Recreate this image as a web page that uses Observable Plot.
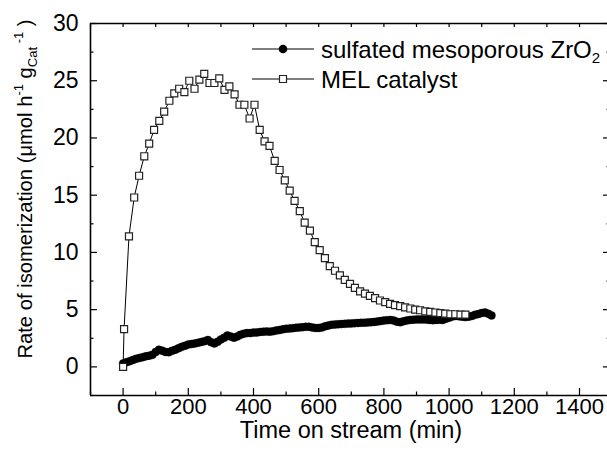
<!DOCTYPE html>
<html><head><meta charset="utf-8">
<script src="https://cdn.jsdelivr.net/npm/d3@7"></script>
<script src="https://cdn.jsdelivr.net/npm/@observablehq/plot@0.6"></script>
<style>
body{margin:0;background:#fff;overflow:hidden;}
#chart{position:relative;width:607px;height:451px;overflow:hidden;}
</style></head><body><div id="chart"></div>
<script>
// sulfated mesoporous ZrO2 (filled circles)
const zrTime = [0,10,20,30,40,50,60,70,80,90,100,110,120,130,140,150,160,170,180,190,200,210,220,230,240,250,260,270,280,290,300,310,320,330,340,350,360,370,380,390,400,410,420,430,440,450,460,470,480,490,500,510,520,530,540,550,560,570,580,590,600,610,620,630,640,650,660,670,680,690,700,710,720,730,740,750,760,770,780,790,800,810,820,830,840,850,860,870,880,890,900,910,920,930,940,950,960,970,980,990,1000,1010,1020,1030,1040,1050,1060,1070,1080,1090,1100,1110,1120,1130];
const zrRate = [0.30,0.40,0.50,0.60,0.70,0.78,0.85,0.92,0.98,1.05,1.30,1.50,1.42,1.30,1.28,1.40,1.50,1.62,1.75,1.85,1.95,2.00,2.05,2.10,2.18,2.25,2.35,2.15,2.05,2.20,2.40,2.55,2.75,2.65,2.55,2.65,2.80,2.90,2.95,2.95,3.00,3.00,3.05,3.08,3.10,3.08,3.12,3.18,3.22,3.28,3.33,3.35,3.38,3.42,3.45,3.47,3.50,3.50,3.45,3.40,3.40,3.45,3.55,3.62,3.68,3.70,3.72,3.74,3.76,3.78,3.80,3.82,3.83,3.85,3.86,3.88,3.90,3.93,3.96,4.00,4.05,4.08,4.10,4.05,3.95,3.90,3.98,4.05,4.10,4.12,4.15,4.15,4.15,4.13,4.10,4.08,4.10,4.12,4.10,4.20,4.30,4.40,4.45,4.42,4.38,4.35,4.38,4.45,4.55,4.62,4.70,4.75,4.65,4.50];
// MEL catalyst (open squares)
const melTime = [0,3,18,34,49,65,80,95,111,126,142,157,172,188,203,219,234,249,265,280,295,311,326,342,357,372,388,403,419,434,449,465,480,496,511,526,542,557,573,588,603,619,634,650,665,680,696,711,727,742,757,773,788,804,819,834,850,865,881,896,911,927,942,958,973,988,1004,1019,1035,1050];
const melRate = [0,3.3,11.4,14.8,16.7,18.4,19.5,20.7,21.5,22.3,23.25,23.9,24.3,24.0,25.0,24.3,25.1,25.6,24.8,24.8,25.2,24.2,24.5,23.8,22.9,22.9,21.7,22.9,20.7,19.7,19.3,18.0,17.2,16.3,15.4,14.5,13.6,12.6,11.9,10.9,10.2,9.5,8.8,8.4,8.0,7.6,7.25,6.9,6.6,6.4,6.2,6.0,5.8,5.65,5.5,5.4,5.3,5.2,5.1,5.0,4.95,4.85,4.8,4.75,4.7,4.65,4.6,4.6,4.57,4.57];

const xMajor = [0,200,400,600,800,1000,1200,1400];
const xMinor = [-100,100,300,500,700,900,1100,1300,1500];
const yMajor = [0,5,10,15,20,25,30];
const yMinor = [-2.5,2.5,7.5,12.5,17.5,22.5,27.5];
const xDomain = [-100, 1500];
const yDomain = [-2.5, 30];
const seriesNames = ["sulfated mesoporous ZrO", "MEL catalyst"];
const xTitle = "Time on stream (min)";

const zr = zrTime.map((t, i) => ({t, r: zrRate[i]}));
const mel = melTime.map((t, i) => ({t, r: melRate[i]}));
const blank = () => "";
const plain = d => String(d);

const chart = Plot.plot({
  width: 607, height: 451,
  marginLeft: 90, marginRight: -2, marginTop: 23, marginBottom: 56,
  style: {fontFamily: "'Liberation Sans', Arial, sans-serif", color: "#000", background: "#fff"},
  x: {domain: xDomain, range: [90, 611.6], label: null},
  y: {domain: yDomain, label: null},
  marks: [
    Plot.axisX(xMajor, {anchor: "bottom", tickSize: -7, tickPadding: 10, fontSize: 22, tickFormat: plain, label: null, strokeWidth: 1.2}),
    Plot.axisX(xMinor, {anchor: "bottom", tickSize: -3.5, tickFormat: blank, label: null, strokeWidth: 1.2}),
    Plot.axisX(xMajor.concat(xMinor), {anchor: "top", tickSize: -3, tickFormat: blank, label: null, strokeWidth: 1.2}),
    Plot.axisY(yMajor, {anchor: "left", tickSize: -7, tickPadding: 19, fontSize: 23, tickFormat: plain, label: null, strokeWidth: 1.2}),
    Plot.axisY(yMinor, {anchor: "left", tickSize: -3.5, tickFormat: blank, label: null, strokeWidth: 1.2}),
    Plot.axisY(yMajor, {anchor: "right", tickSize: -7, tickFormat: blank, label: null, strokeWidth: 1.2}),
    Plot.axisY(yMinor, {anchor: "right", tickSize: -3.5, tickFormat: blank, label: null, strokeWidth: 1.2}),
    Plot.ruleX([xDomain[0]], {stroke: "#000", strokeWidth: 1.6}),
    Plot.ruleY([yDomain[0], yDomain[1]], {stroke: "#000", strokeWidth: 1.6}),
    Plot.line(zr, {x: "t", y: "r", stroke: "#000", strokeWidth: 1}),
    Plot.dot(zr, {x: "t", y: "r", r: 4, fill: "#000", stroke: "#000", strokeWidth: 0.4}),
    Plot.line(mel, {x: "t", y: "r", stroke: "#000", strokeWidth: 1}),
    Plot.dot(mel, {x: "t", y: "r", symbol: "square", r: 3.95, fill: "#fff", stroke: "#222", strokeWidth: 1.2})
  ]
});
document.getElementById("chart").appendChild(chart);

const svg = d3.select(chart);
const ff = "'Liberation Sans', Arial, sans-serif";
// x title
svg.append("text").attr("x", 351).attr("y", 438).attr("text-anchor", "middle")
  .attr("font-size", 23.5).attr("font-family", ff).attr("fill", "#000").text(xTitle);
// y title
const yt = svg.append("text").attr("transform", "translate(32,189) rotate(-90)")
  .attr("text-anchor", "middle").attr("font-size", 20.2).attr("font-family", ff).attr("fill", "#000");
yt.append("tspan").text("Rate of isomerization (\u03BCmol h");
yt.append("tspan").attr("font-size", 13).attr("dy", -9).text("-1");
yt.append("tspan").attr("dy", 9).text(" g");
yt.append("tspan").attr("font-size", 13).attr("dy", 5).text("Cat");
yt.append("tspan").attr("font-size", 13).attr("dy", -14).text(" -1");
yt.append("tspan").attr("dy", 9).text(" )");

// legend
const lg = svg.append("g").attr("font-family", ff).attr("font-size", 24).attr("fill", "#000").attr("text-anchor", "start");
const rows = [49, 79];
rows.forEach((y, i) => {
  lg.append("line").attr("x1", 252).attr("x2", 314).attr("y1", y).attr("y2", y).attr("stroke", "#000").attr("stroke-width", 1);
  if (i === 0) {
    lg.append("circle").attr("cx", 283).attr("cy", y).attr("r", 4.3).attr("fill", "#000");
  } else {
    lg.append("path").attr("transform", `translate(283,${y})`)
      .attr("d", d3.symbol(d3.symbolSquare, 3.95 * 3.95 * Math.PI)()).attr("fill", "#fff").attr("stroke", "#222").attr("stroke-width", 1.2);
  }
  const t = lg.append("text").attr("x", 321).attr("y", y + 8.5).attr("text-anchor", "start");
  t.append("tspan").text(seriesNames[i]);
  if (i === 0) t.append("tspan").attr("font-size", 15).attr("dy", 5).text("2");
});
</script></body></html>
